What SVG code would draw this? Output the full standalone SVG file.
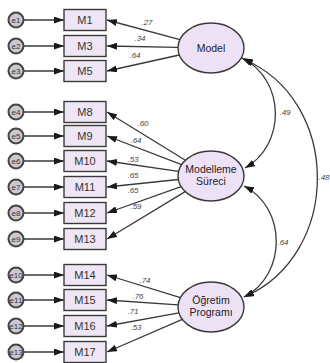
<svg xmlns="http://www.w3.org/2000/svg" width="330" height="363" viewBox="0 0 330 363">
<defs>
<marker id="ah" markerWidth="10" markerHeight="7" refX="10" refY="3.5" orient="auto" markerUnits="userSpaceOnUse"><path d="M0,0 L10,3.5 L0,7 Z" fill="#1a1a1a"/></marker>
<marker id="as" markerWidth="10" markerHeight="7" refX="0" refY="3.5" orient="auto" markerUnits="userSpaceOnUse"><path d="M10,0 L0,3.5 L10,7 Z" fill="#1a1a1a"/></marker>
<style>
.box{fill:#efe6f5;stroke:#3a3a3a;stroke-width:1.4}
.lat{fill:#ece1f5;stroke:#3a3a3a;stroke-width:1.4}
.err{fill:#cdc7d2;stroke:#444;stroke-width:2}
.t{font-family:"Liberation Sans",Arial,sans-serif;font-size:11px;fill:#333;text-anchor:middle}
.lt{font-family:"Liberation Sans",Arial,sans-serif;font-size:10.5px;fill:#222;text-anchor:middle}
.et{font-family:"Liberation Sans",Arial,sans-serif;font-size:8px;fill:#333;text-anchor:middle}
.w{font-family:"Liberation Sans",Arial,sans-serif;font-size:8px;fill:#444;text-anchor:middle;font-style:italic}
.c{stroke:#3a3a3a;stroke-width:1.3;fill:none}
</style>
</defs>
<g id="connectors">
<line class="c" x1="24" y1="20" x2="64" y2="20" marker-end="url(#ah)"/>
<line class="c" x1="24" y1="46" x2="64" y2="46" marker-end="url(#ah)"/>
<line class="c" x1="24" y1="71" x2="64" y2="71" marker-end="url(#ah)"/>
<line class="c" x1="24" y1="112" x2="64" y2="112" marker-end="url(#ah)"/>
<line class="c" x1="24" y1="136" x2="64" y2="136" marker-end="url(#ah)"/>
<line class="c" x1="24" y1="161" x2="64" y2="161" marker-end="url(#ah)"/>
<line class="c" x1="24" y1="187" x2="64" y2="187" marker-end="url(#ah)"/>
<line class="c" x1="24" y1="213" x2="64" y2="213" marker-end="url(#ah)"/>
<line class="c" x1="24" y1="239" x2="64" y2="239" marker-end="url(#ah)"/>
<line class="c" x1="24" y1="275" x2="64" y2="275" marker-end="url(#ah)"/>
<line class="c" x1="24" y1="300" x2="64" y2="300" marker-end="url(#ah)"/>
<line class="c" x1="24" y1="326" x2="64" y2="326" marker-end="url(#ah)"/>
<line class="c" x1="24" y1="352" x2="64" y2="352" marker-end="url(#ah)"/>
<line class="c" x1="179.9" y1="39.6" x2="107" y2="20" marker-end="url(#ah)"/>
<line class="c" x1="178" y1="47.4" x2="107" y2="46" marker-end="url(#ah)"/>
<line class="c" x1="179.3" y1="55" x2="107" y2="71" marker-end="url(#ah)"/>
<line class="c" x1="185.4" y1="160.2" x2="107" y2="112" marker-end="url(#ah)"/>
<line class="c" x1="181.6" y1="164.7" x2="107" y2="136" marker-end="url(#ah)"/>
<line class="c" x1="178.6" y1="171.3" x2="107" y2="161" marker-end="url(#ah)"/>
<line class="c" x1="178.3" y1="179.5" x2="107" y2="187" marker-end="url(#ah)"/>
<line class="c" x1="181.1" y1="186.6" x2="107" y2="213" marker-end="url(#ah)"/>
<line class="c" x1="185.2" y1="191.6" x2="107" y2="239" marker-end="url(#ah)"/>
<line class="c" x1="180.4" y1="297.6" x2="107" y2="275" marker-end="url(#ah)"/>
<line class="c" x1="178.1" y1="304.8" x2="107" y2="300" marker-end="url(#ah)"/>
<line class="c" x1="178.9" y1="312.9" x2="107" y2="326" marker-end="url(#ah)"/>
<line class="c" x1="182.3" y1="319.4" x2="107" y2="352" marker-end="url(#ah)"/>
<path class="c" d="M242,58 C286,80 286,145 245,168" marker-start="url(#as)" marker-end="url(#ah)"/>
<path class="c" d="M244,186 C287,208 287,275 244,297" marker-start="url(#as)" marker-end="url(#ah)"/>
<path class="c" d="M243,59 C342,100 342,255 244,297" marker-start="url(#as)" marker-end="url(#ah)"/>
<text class="w" x="147" y="25">.27</text>
<text class="w" x="140" y="41">.34</text>
<text class="w" x="135" y="58">.64</text>
<text class="w" x="143" y="126">.60</text>
<text class="w" x="136" y="143">.64</text>
<text class="w" x="133" y="162">.53</text>
<text class="w" x="133" y="178">.65</text>
<text class="w" x="133" y="193">.65</text>
<text class="w" x="136" y="209">.59</text>
<text class="w" x="145" y="283">.74</text>
<text class="w" x="138" y="299">.76</text>
<text class="w" x="133" y="314">.71</text>
<text class="w" x="136" y="330">.53</text>
<text class="w" x="285" y="115">.49</text>
<text class="w" x="283" y="245">.64</text>
<text class="w" x="324" y="180">.48</text>
</g>
<g id="e1"><circle class="err" cx="16" cy="20" r="7.5"/><text class="et" x="16" y="23">e1</text></g>
<g id="e2"><circle class="err" cx="16" cy="46" r="7.5"/><text class="et" x="16" y="49">e2</text></g>
<g id="e3"><circle class="err" cx="16" cy="71" r="7.5"/><text class="et" x="16" y="74">e3</text></g>
<g id="e4"><circle class="err" cx="16" cy="112" r="7.5"/><text class="et" x="16" y="115">e4</text></g>
<g id="e5"><circle class="err" cx="16" cy="136" r="7.5"/><text class="et" x="16" y="139">e5</text></g>
<g id="e6"><circle class="err" cx="16" cy="161" r="7.5"/><text class="et" x="16" y="164">e6</text></g>
<g id="e7"><circle class="err" cx="16" cy="187" r="7.5"/><text class="et" x="16" y="190">e7</text></g>
<g id="e8"><circle class="err" cx="16" cy="213" r="7.5"/><text class="et" x="16" y="216">e8</text></g>
<g id="e9"><circle class="err" cx="16" cy="239" r="7.5"/><text class="et" x="16" y="242">e9</text></g>
<g id="e10"><circle class="err" cx="16" cy="275" r="7.5"/><text class="et" x="16" y="278">e10</text></g>
<g id="e11"><circle class="err" cx="16" cy="300" r="7.5"/><text class="et" x="16" y="303">e11</text></g>
<g id="e12"><circle class="err" cx="16" cy="326" r="7.5"/><text class="et" x="16" y="329">e12</text></g>
<g id="e13"><circle class="err" cx="16" cy="352" r="7.5"/><text class="et" x="16" y="355">e13</text></g>
<g id="M1"><rect class="box" x="64" y="9.5" width="42" height="21"/><text class="t" x="85" y="24">M1</text></g>
<g id="M3"><rect class="box" x="64" y="35.5" width="42" height="21"/><text class="t" x="85" y="50">M3</text></g>
<g id="M5"><rect class="box" x="64" y="60.5" width="42" height="21"/><text class="t" x="85" y="75">M5</text></g>
<g id="M8"><rect class="box" x="64" y="101.5" width="42" height="21"/><text class="t" x="85" y="116">M8</text></g>
<g id="M9"><rect class="box" x="64" y="125.5" width="42" height="21"/><text class="t" x="85" y="140">M9</text></g>
<g id="M10"><rect class="box" x="64" y="150.5" width="42" height="21"/><text class="t" x="85" y="165">M10</text></g>
<g id="M11"><rect class="box" x="64" y="176.5" width="42" height="21"/><text class="t" x="85" y="191">M11</text></g>
<g id="M12"><rect class="box" x="64" y="202.5" width="42" height="21"/><text class="t" x="85" y="217">M12</text></g>
<g id="M13"><rect class="box" x="64" y="228.5" width="42" height="21"/><text class="t" x="85" y="243">M13</text></g>
<g id="M14"><rect class="box" x="64" y="264.5" width="42" height="21"/><text class="t" x="85" y="279">M14</text></g>
<g id="M15"><rect class="box" x="64" y="289.5" width="42" height="21"/><text class="t" x="85" y="304">M15</text></g>
<g id="M16"><rect class="box" x="64" y="315.5" width="42" height="21"/><text class="t" x="85" y="330">M16</text></g>
<g id="M17"><rect class="box" x="64" y="341.5" width="42" height="21"/><text class="t" x="85" y="356">M17</text></g>
<g id="Model"><ellipse class="lat" cx="211" cy="48" rx="33" ry="25"/><text class="lt" x="211" y="52">Model</text></g>
<g id="ModellemeSureci"><ellipse class="lat" cx="211" cy="176" rx="33" ry="25"/><text class="lt" x="211" y="173">Modelleme</text><text class="lt" x="211" y="185">Süreci</text></g>
<g id="OgretimProgrami"><ellipse class="lat" cx="211" cy="307" rx="33" ry="25"/><text class="lt" x="211" y="304">Öğretim</text><text class="lt" x="211" y="316">Programı</text></g>
</svg>
